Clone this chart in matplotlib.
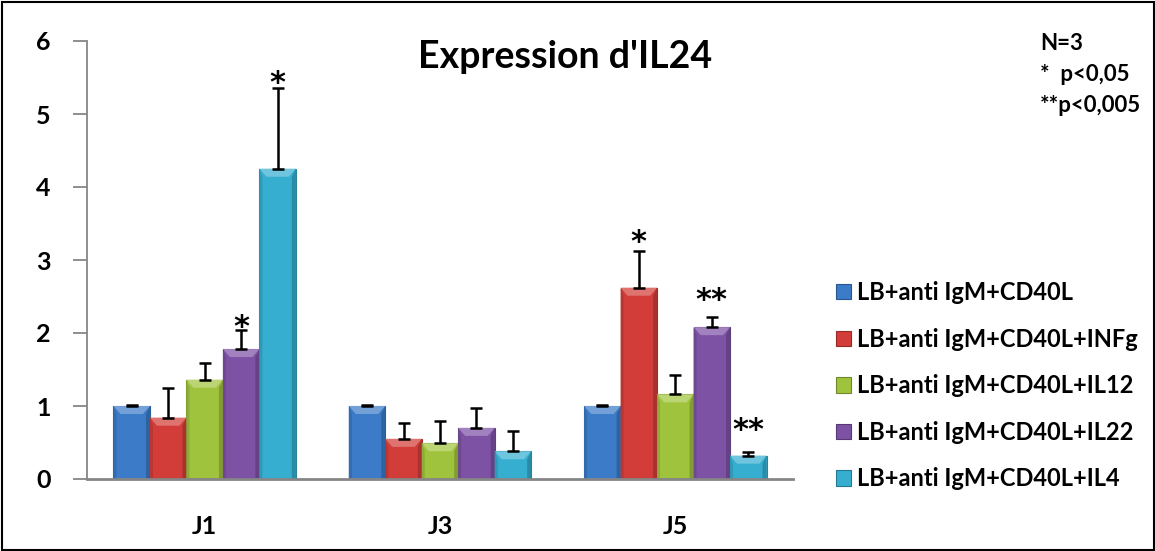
import matplotlib
matplotlib.use("Agg")
import matplotlib.pyplot as plt
import numpy as np
from matplotlib.patches import Polygon, Rectangle, Patch
import matplotlib.colors as mcolors

# ---- data ----
days = ["J1", "J3", "J5"]
series = ["LB+anti IgM+CD40L", "LB+anti IgM+CD40L+INFg", "LB+anti IgM+CD40L+IL12",
          "LB+anti IgM+CD40L+IL22", "LB+anti IgM+CD40L+IL4"]
ctrl = [1.00, 1.00, 1.00]
infg = [0.84, 0.55, 2.62]
il12 = [1.36, 0.49, 1.16]
il22 = [1.78, 0.70, 2.08]
il4 = [4.25, 0.38, 0.32]
ctrl_err = [0.02, 0.02, 0.02]
infg_err = [0.40, 0.22, 0.50]
il12_err = [0.23, 0.31, 0.27]
il22_err = [0.26, 0.27, 0.14]
il4_err = [1.11, 0.28, 0.05]
# significance marks: (series index, day index, label)
signif = [(3, 0, "*"), (4, 0, "*"), (1, 2, "*"), (3, 2, "**"), (4, 2, "**")]
notes = ["N=3", "*  p<0,05", "**p<0,005"]
title = "Expression d'IL24"

values = [ctrl, infg, il12, il22, il4]
errors = [ctrl_err, infg_err, il12_err, il22_err, il4_err]
colors = ["#3b7bc8", "#d33d39", "#a0c33e", "#7d52a5", "#35aed0"]
star_offsets_pt = [-4.5, -3.0, 0.5, 5.5, 9.5]

plt.rcParams['font.family'] = ['Lato', 'DejaVu Sans']
plt.rcParams['font.weight'] = 'bold'

W, H = 1155, 551
fig = plt.figure(figsize=(W / 100, H / 100), dpi=100)
ax = fig.add_axes([87 / W, 1 - 479 / H, (793 - 87) / W, (479 - 41) / H])
ax.set_xlim(-0.5, 2.5)
ax.set_ylim(0, 6)

x = np.arange(len(days))
bw = 0.155
n = len(series)
ax_h_px = (479 - 41)
ax_w_px = (793 - 87)
uy = 6 / ax_h_px      # data units per pixel (y)
ux = 3 / ax_w_px      # data units per pixel (x)


def shade(c, f):
    r, g, b = mcolors.to_rgb(c)
    if f > 0:
        return (r + (1 - r) * f, g + (1 - g) * f, b + (1 - b) * f)
    return (r * (1 + f), g * (1 + f), b * (1 + f))


for i in range(n):
    xs = x + (i - (n - 1) / 2) * bw
    bars = ax.bar(xs, values[i], width=bw, color=colors[i], edgecolor=shade(colors[i], -0.25),
                  linewidth=0.8, zorder=2)
    for rect in bars:
        x0 = rect.get_x(); x1 = x0 + rect.get_width(); v = rect.get_height()
        by = min(8 * uy, v * 0.4)
        bx = 7 * ux
        ax.add_patch(Polygon([(x0, v), (x1, v), (x1 - bx, v - by), (x0 + bx, v - by)],
                             closed=True, fc=shade(colors[i], 0.28), ec='none', zorder=2.5))
        ax.add_patch(Polygon([(x0, v), (x0 + 3 * ux, v - by), (x0 + 3 * ux, 0), (x0, 0)],
                             closed=True, fc=shade(colors[i], -0.12), ec='none', zorder=2.5))
        ax.add_patch(Polygon([(x1, v), (x1 - 4 * ux, v - by), (x1 - 4 * ux, 0), (x1, 0)],
                             closed=True, fc=shade(colors[i], -0.2), ec='none', zorder=2.5))
    ax.errorbar(xs, values[i], yerr=[np.zeros(len(days)), errors[i]], fmt='none',
                ecolor='black', elinewidth=1.8, capsize=4, capthick=1.8, zorder=3)

for k, (si, di, lab) in enumerate(signif):
    xs = x[di] + (si - (n - 1) / 2) * bw
    top = values[si][di] + errors[si][di]
    ax.annotate(lab, (xs, top), xytext=(0, star_offsets_pt[k]), textcoords='offset points',
                ha='center', va='baseline', fontsize=22, fontweight='bold',
                family='DejaVu Sans', zorder=4)

# axes styling
for s in ['top', 'right']:
    ax.spines[s].set_visible(False)
ax.spines['left'].set_color('#868686')
ax.spines['bottom'].set_color('#868686')
ax.spines['left'].set_linewidth(1.3)
ax.spines['bottom'].set_linewidth(2)
ax.set_yticks(range(7))
ax.set_yticklabels([str(v) for v in range(7)], fontsize=18, fontweight='bold')
ax.tick_params(axis='y', length=10, width=1.3, color='#868686', pad=16)
ax.set_xticks(x)
ax.set_xticklabels(days, fontsize=18, fontweight='bold')
ax.tick_params(axis='x', length=0, pad=26)

fig.text(565 / W, 1 - 57 / H, title, ha='center', va='center', fontsize=27, fontweight='bold')
for k, t in enumerate(notes):
    fig.text(1040 / W, 1 - (44 + 31 * k) / H, t, ha='left', va='center', fontsize=16,
             fontweight='bold')

handles = [Patch(facecolor=colors[i], edgecolor=shade(colors[i], -0.3), linewidth=0.8)
           for i in range(n)]
fig.legend(handles, series, loc='upper left', bbox_to_anchor=(836 / W, 1 - 281 / H),
           frameon=False, prop={'weight': 'bold', 'size': 17},
           handlelength=0.62, handleheight=0.62, handletextpad=0.25, labelspacing=1.0,
           borderpad=0, borderaxespad=0)

fig.patches.append(Rectangle((1.5 / W, 1.5 / H), 1 - 3 / W, 1 - 3 / H, transform=fig.transFigure,
                             fill=False, lw=1.5, ec='black'))

fig.savefig("out.png", dpi=100)
